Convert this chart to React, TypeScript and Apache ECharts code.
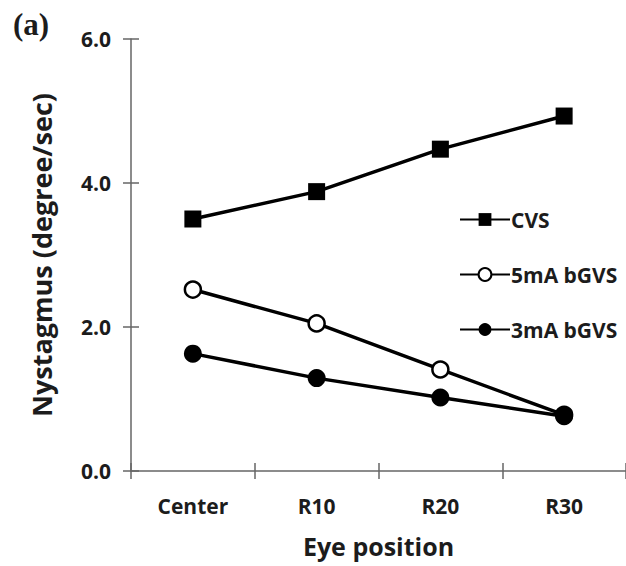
import React, { useEffect, useRef } from "react";
import * as echarts from "echarts";

// Eye positions along the horizontal axis
const positions = ["Center", "R10", "R20", "R30"];

// Nystagmus slow-phase velocity (degree/sec) per stimulus
const cvsValues = [3.5, 3.88, 4.47, 4.93];
const bgvs5Values = [2.52, 2.05, 1.41, 0.78];
const bgvs3Values = [1.63, 1.29, 1.02, 0.76];

const seriesNames = ["CVS", "5mA bGVS", "3mA bGVS"];

const FONT = "'Open Sans', 'Noto Sans', sans-serif";
const INK = "#1c1c1c";
const AXIS_GRAY = "#666";

export default function App() {
  const ref = useRef<HTMLDivElement>(null);

  useEffect(() => {
    if (!ref.current) return;
    const chart = echarts.init(ref.current, undefined, { renderer: "svg" });

    const lineStyle = { color: "#000", width: 3.5 };

    chart.setOption({
      animation: false,
      backgroundColor: "#fff",
      textStyle: { fontFamily: FONT },
      grid: { left: 131, right: -2, top: 39, bottom: 95, containLabel: false },
      graphic: [
        {
          type: "text",
          left: 13,
          top: 9,
          style: {
            text: "(a)",
            font: "bold 31px 'Liberation Serif', 'DejaVu Serif', serif",
            fill: INK,
          },
        },
      ],
      legend: {
        orient: "vertical",
        left: 454,
        top: 204,
        itemWidth: 50,
        itemHeight: 16,
        itemGap: 34,
        data: seriesNames,
        textStyle: {
          fontFamily: FONT,
          fontSize: 21,
          fontWeight: "bold",
          color: INK,
          padding: [0, 0, 0, -4],
        },
      },
      xAxis: [
        {
          type: "category",
          data: positions,
          position: "bottom",
          boundaryGap: true,
          name: "Eye position",
          nameLocation: "middle",
          nameGap: 62,
          nameTextStyle: { fontFamily: FONT, fontSize: 25, fontWeight: "bold", color: INK },
          axisLine: { lineStyle: { color: AXIS_GRAY, width: 1.5 } },
          axisTick: { show: true, length: 8, inside: false, lineStyle: { color: AXIS_GRAY, width: 1.5 } },
          axisLabel: { margin: 24, fontFamily: FONT, fontSize: 21, fontWeight: "bold", color: INK },
          splitLine: { show: false },
        },
        {
          type: "category",
          data: positions,
          position: "bottom",
          boundaryGap: true,
          axisLine: { show: false },
          axisTick: { show: true, length: 8, inside: true, lineStyle: { color: AXIS_GRAY, width: 1.5 } },
          axisLabel: { show: false },
          splitLine: { show: false },
        },
      ],
      yAxis: [
        {
          type: "value",
          min: 0,
          max: 6,
          interval: 2,
          position: "left",
          name: "Nystagmus (degree/sec)",
          nameLocation: "middle",
          nameRotate: 90,
          nameGap: 76,
          nameTextStyle: { fontFamily: FONT, fontSize: 27, fontWeight: "bold", color: INK },
          axisLine: { show: true, lineStyle: { color: AXIS_GRAY, width: 1.5 } },
          axisTick: { show: true, length: 8, inside: false, lineStyle: { color: AXIS_GRAY, width: 1.5 } },
          axisLabel: {
            margin: 20,
            fontFamily: FONT,
            fontSize: 21,
            fontWeight: "bold",
            color: INK,
            formatter: (v: number) => v.toFixed(1),
          },
          splitLine: { show: false },
        },
        {
          type: "value",
          min: 0,
          max: 6,
          interval: 2,
          position: "left",
          axisLine: { show: false },
          axisTick: { show: true, length: 8, inside: true, lineStyle: { color: AXIS_GRAY, width: 1.5 } },
          axisLabel: { show: false },
          splitLine: { show: false },
        },
      ],
      series: [
        {
          name: seriesNames[0],
          type: "line",
          data: cvsValues,
          symbol: "rect",
          symbolSize: 17,
          itemStyle: { color: "#000" },
          lineStyle,
        },
        {
          name: seriesNames[1],
          type: "line",
          data: bgvs5Values,
          symbol: "circle",
          symbolSize: 16,
          itemStyle: { color: "#fff", borderColor: "#000", borderWidth: 2.5 },
          lineStyle,
        },
        {
          name: seriesNames[2],
          type: "line",
          data: bgvs3Values,
          symbol: "circle",
          symbolSize: 18,
          itemStyle: { color: "#000" },
          lineStyle,
        },
      ],
    });

    return () => chart.dispose();
  }, []);

  return (
    <div
      ref={ref}
      style={{ position: "fixed", left: 0, top: 0, width: 626, height: 566 }}
    />
  );
}
